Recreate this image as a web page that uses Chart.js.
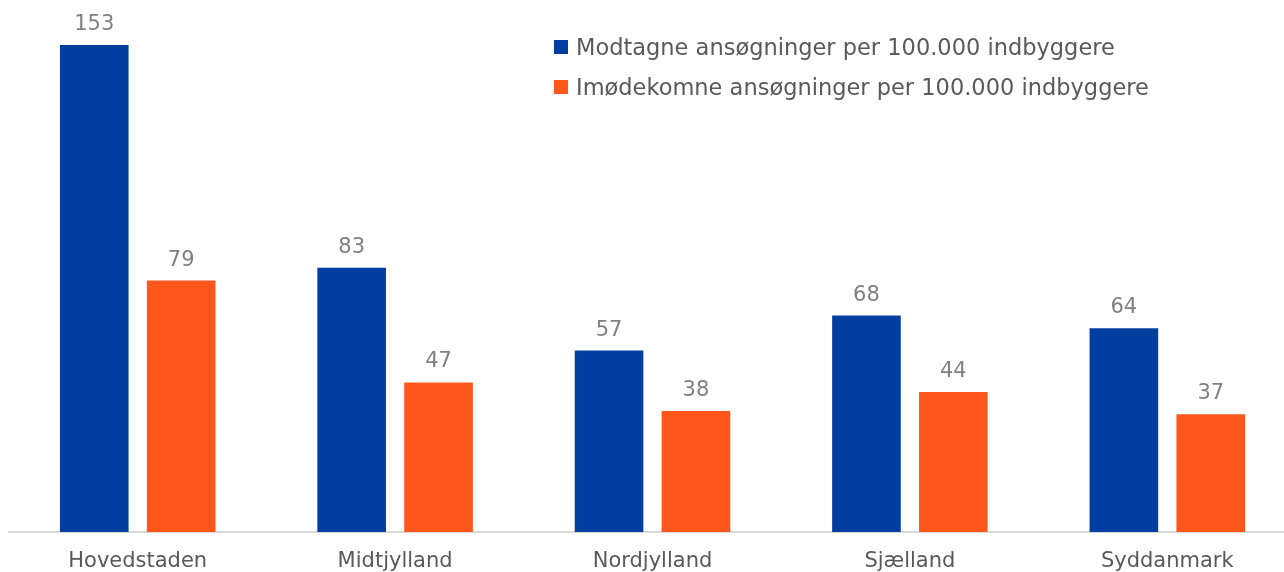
<!DOCTYPE html>
<html>
<head>
<meta charset="utf-8">
<script src="https://cdn.jsdelivr.net/npm/chart.js@4"></script>
<style>
  body { margin: 0; background: #fff; overflow: hidden; }
  #wrap { position: relative; width: 1284px; height: 572px; overflow: hidden; }
  #legend { position: absolute; left: 554px; top: 27px; font-family: "DejaVu Sans", Verdana, sans-serif; font-size: 22.5px; color: #595959; }
  #legend div { height: 40px; display: flex; align-items: center; white-space: nowrap; }
  #legend span.box { display: inline-block; width: 14px; height: 14px; margin-right: 8px; }
</style>
</head>
<body>
<div id="wrap">
  <canvas id="barChart" width="1296" height="572"></canvas>
  <div id="legend"></div>
</div>
<script>
// data
const regions = ['Hovedstaden', 'Midtjylland', 'Nordjylland', 'Sjælland', 'Syddanmark'];
const modtagne = [153, 83, 57, 68, 64];
const imodekomne = [79, 47, 38, 44, 37];
const seriesNames = ['Modtagne ansøgninger per 100.000 indbyggere', 'Imødekomne ansøgninger per 100.000 indbyggere'];
const seriesColors = ['#003fa0', '#ff561c'];

// værdier over søjlerne
const valueLabels = {
  id: 'valueLabels',
  afterDatasetsDraw(chart) {
    const c = chart.ctx;
    c.save();
    c.font = '21px "DejaVu Sans", Verdana, sans-serif';
    c.fillStyle = '#808080';
    c.textAlign = 'center';
    c.textBaseline = 'alphabetic';
    chart.data.datasets.forEach((ds, i) => {
      chart.getDatasetMeta(i).data.forEach((bar, j) => {
        c.fillText(ds.data[j], bar.x, bar.y - 15);
      });
    });
    c.restore();
  }
};

const ctx = document.getElementById('barChart').getContext('2d');
const chart = new Chart(ctx, {
  type: 'bar',
  data: {
    labels: regions,
    datasets: [
      { label: seriesNames[0], data: modtagne, backgroundColor: seriesColors[0] },
      { label: seriesNames[1], data: imodekomne, backgroundColor: seriesColors[1] }
    ]
  },
  options: {
    responsive: false,
    animation: false,
    categoryPercentage: 0.675,
    barPercentage: 0.79,
    layout: { padding: { left: 9, right: 0, top: 10, bottom: 0 } },
    plugins: { legend: { display: false }, tooltip: { enabled: false } },
    scales: {
      x: {
        grid: { display: false, drawTicks: false },
        border: { color: '#d9d9d9', width: 2 },
        ticks: { color: '#595959', padding: 17, font: { family: '"DejaVu Sans", Verdana, sans-serif', size: 21 } },
        afterFit(scale) { scale.height = 40; }
      },
      y: { display: false, min: 0, max: 164 }
    }
  },
  plugins: [valueLabels]
});

// legend
const legend = document.getElementById('legend');
seriesNames.forEach((name, i) => {
  const row = document.createElement('div');
  row.innerHTML = '<span class="box" style="background:' + seriesColors[i] + '"></span>' + name;
  legend.appendChild(row);
});
</script>
</body>
</html>
